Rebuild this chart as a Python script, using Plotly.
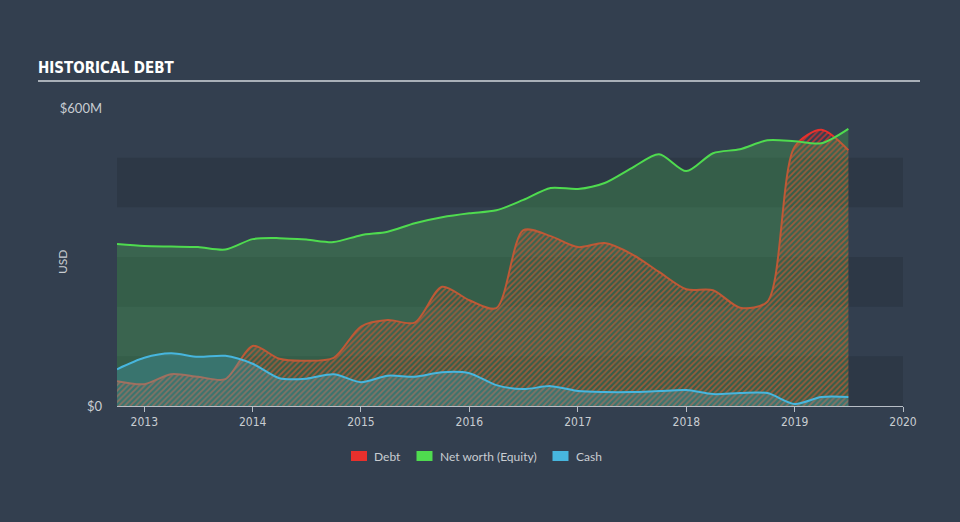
import plotly.graph_objects as go

dates = ["2012-10-01", "2013-01-01", "2013-04-01", "2013-07-01", "2013-10-01",
         "2014-01-01", "2014-04-01", "2014-07-01", "2014-10-01",
         "2015-01-01", "2015-04-01", "2015-07-01", "2015-10-01",
         "2016-01-01", "2016-04-01", "2016-07-01", "2016-10-01",
         "2017-01-01", "2017-04-01", "2017-07-01", "2017-10-01",
         "2018-01-01", "2018-04-01", "2018-07-01", "2018-10-01",
         "2019-01-01", "2019-04-01", "2019-07-01"]

debt = [50, 44, 64, 59, 54,
        121, 95, 91, 97,
        160, 173, 168, 240,
        213, 197, 354, 342,
        320, 328, 306, 270,
        235, 233, 198, 210,
        522, 556, 515]

equity = [326, 322, 321, 320, 315,
          336, 338, 335, 330,
          344, 351, 368, 380,
          388, 394, 415, 439,
          437, 449, 479, 507,
          473, 509, 517, 535,
          533, 529, 558]

cash = [74, 97, 106, 99, 101,
        85, 56, 55, 64,
        48, 61, 59, 68,
        66, 42, 34, 40,
        30, 28, 28, 30,
        32, 24, 26, 26,
        4, 18, 18]

year_ticks = ["2013", "2014", "2015", "2016", "2017", "2018", "2019", "2020"]
legend_names = ["Debt", "Net worth (Equity)", "Cash"]

BG = "#333f4f"
BAND = "#2d3846"
RED = "#e8302c"
GREEN = "#4fdb4f"
BLUE = "#47b6de"
TXT = "#c9cdd2"
legend_colors = [RED, GREEN, BLUE]

# plot area in pixels
L, R, T, B = 117, 903, 108, 406
W, H = R - L, B - T


def px(xp):
    return (xp - L) / W


def py(yp):
    return (B - yp) / H


fig = go.Figure()

fig.add_trace(go.Scatter(
    x=dates, y=[v * 1e6 for v in debt], mode="lines",
    line=dict(color=RED, width=2, shape="spline", smoothing=0.8),
    fill="tozeroy", fillcolor="rgba(0,0,0,0)",
    fillpattern=dict(shape="/", fgcolor=RED, fgopacity=0.75, size=4, solidity=0.45,
                     bgcolor="rgba(0,0,0,0)"),
    name=legend_names[0], showlegend=False, hoverinfo="skip"))

fig.add_trace(go.Scatter(
    x=dates, y=[v * 1e6 for v in equity], mode="lines",
    line=dict(color=GREEN, width=2, shape="spline", smoothing=0.8),
    fill="tozeroy", fillcolor="rgba(76,200,80,0.27)",
    name=legend_names[1], showlegend=False, hoverinfo="skip"))

fig.add_trace(go.Scatter(
    x=dates, y=[v * 1e6 for v in cash], mode="lines",
    line=dict(color=BLUE, width=2, shape="spline", smoothing=0.8),
    fill="tozeroy", fillcolor="rgba(71,182,222,0.25)",
    name=legend_names[2], showlegend=False, hoverinfo="skip"))

shapes = []
for lo, hi in [(0, 100), (200, 300), (400, 500)]:
    shapes.append(dict(type="rect", xref="paper", yref="y", x0=0, x1=1,
                       y0=lo * 1e6, y1=hi * 1e6, fillcolor=BAND, line_width=0,
                       layer="below"))
# title underline
shapes.append(dict(type="line", xref="paper", yref="paper", x0=px(38), x1=px(920),
                   y0=py(81), y1=py(81), line=dict(color="#a9b0b8", width=2)))

# custom legend (square swatches + labels)
annotations = []
legend_sq_x = [351, 416.5, 552.5]
for name, col, x0 in zip(legend_names, legend_colors, legend_sq_x):
    shapes.append(dict(type="rect", xref="paper", yref="paper",
                       x0=px(x0), x1=px(x0 + 16), y0=py(461), y1=py(451),
                       fillcolor=col, line_width=0))
    annotations.append(dict(xref="paper", yref="paper", x=px(x0 + 21), y=py(456),
                            text=name, showarrow=False, xanchor="left", yanchor="middle",
                            font=dict(family="Lato, sans-serif", size=12, color=TXT)))

annotations.append(dict(xref="paper", yref="paper", x=px(62), y=py(262), text="USD",
                        textangle=-90, showarrow=False, xanchor="center", yanchor="middle",
                        font=dict(family="Lato, sans-serif", size=12, color=TXT)))

fig.update_layout(
    shapes=shapes, annotations=annotations,
    width=960, height=522,
    paper_bgcolor=BG, plot_bgcolor=BG,
    margin=dict(l=L, r=960 - R, t=T, b=522 - B),
    font=dict(family="Lato, 'DejaVu Sans', sans-serif", color=TXT, size=12),
    title=dict(text="<b>HISTORICAL DEBT</b>", x=38 / 960, xanchor="left",
               y=1 - 68 / 522, yanchor="middle",
               font=dict(family="'DejaVu Sans Condensed', 'Liberation Sans Narrow', sans-serif",
                         size=15, color="#ffffff")),
    xaxis=dict(type="date", range=["2012-10-01", "2020-01-01"],
               tickvals=[y + "-01-01" for y in year_ticks], ticktext=year_ticks,
               showgrid=False, zeroline=False, showline=True, linecolor="#b8bec6",
               linewidth=1, ticks="outside", ticklen=5, tickcolor="#b8bec6",
               tickfont=dict(family="'DejaVu Sans Condensed', sans-serif", size=12, color=TXT)),
    yaxis=dict(range=[0, 600e6], tickvals=[0, 600e6], ticktext=["$0", "$600M"],
               showgrid=False, zeroline=False, showline=False, ticks="",
               ticklabelstandoff=14,
               tickfont=dict(size=13, color=TXT)),
    showlegend=False,
)

fig.write_html("out.html")
